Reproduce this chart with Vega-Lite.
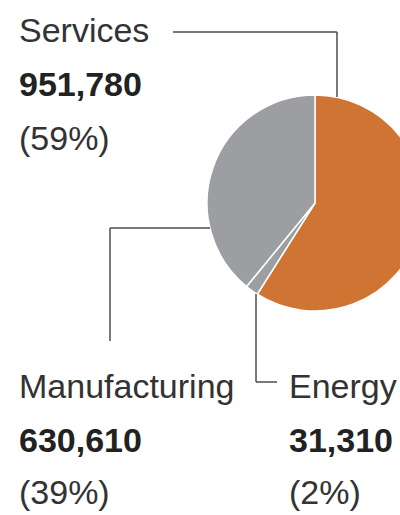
{
  "$schema": "https://vega.github.io/schema/vega-lite/v6.json",
  "width": 400,
  "height": 515,
  "autosize": "none",
  "padding": 0,
  "background": "white",
  "config": {"view": {"stroke": null}},
  "data": {
    "values": [
      {"category": "Services", "value": 951780, "pct": 59, "order": 1},
      {"category": "Energy", "value": 31310, "pct": 2, "order": 2},
      {"category": "Manufacturing", "value": 630610, "pct": 39, "order": 3}
    ]
  },
  "transform": [
    {"calculate": "'(' + datum.pct + '%)'", "as": "pctLabel"},
    {"calculate": "format(datum.value, ',')", "as": "valueLabel"}
  ],
  "layer": [
    {
      "mark": {"type": "arc", "outerRadius": 108, "stroke": "white", "strokeWidth": 1.5},
      "encoding": {
        "x": {"value": 315},
        "y": {"value": 203},
        "theta": {"field": "value", "type": "quantitative", "stack": true},
        "order": {"field": "order", "type": "quantitative"},
        "color": {
          "field": "category",
          "type": "nominal",
          "scale": {"domain": ["Services", "Energy", "Manufacturing"], "range": ["#d07434", "#9c9ea1", "#9c9ea1"]},
          "legend": null
        }
      }
    },
    {"data": {"values": [{}]}, "mark": {"type": "rule", "stroke": "#4d4d4d", "strokeWidth": 1.5}, "encoding": {"x": {"value": 173}, "y": {"value": 32}, "x2": {"value": 337}, "y2": {"value": 32}}},
    {"data": {"values": [{}]}, "mark": {"type": "rule", "stroke": "#4d4d4d", "strokeWidth": 1.5}, "encoding": {"x": {"value": 337}, "y": {"value": 32}, "x2": {"value": 337}, "y2": {"value": 97}}},
    {"data": {"values": [{}]}, "mark": {"type": "rule", "stroke": "#4d4d4d", "strokeWidth": 1.5}, "encoding": {"x": {"value": 110}, "y": {"value": 228}, "x2": {"value": 210}, "y2": {"value": 228}}},
    {"data": {"values": [{}]}, "mark": {"type": "rule", "stroke": "#4d4d4d", "strokeWidth": 1.5}, "encoding": {"x": {"value": 110}, "y": {"value": 228}, "x2": {"value": 110}, "y2": {"value": 341}}},
    {"data": {"values": [{}]}, "mark": {"type": "rule", "stroke": "#4d4d4d", "strokeWidth": 1.5}, "encoding": {"x": {"value": 256}, "y": {"value": 294}, "x2": {"value": 256}, "y2": {"value": 382}}},
    {"data": {"values": [{}]}, "mark": {"type": "rule", "stroke": "#4d4d4d", "strokeWidth": 1.5}, "encoding": {"x": {"value": 256}, "y": {"value": 382}, "x2": {"value": 277}, "y2": {"value": 382}}},
    {
      "transform": [{"filter": "datum.category == 'Services'"}],
      "mark": {"type": "text", "align": "left", "baseline": "alphabetic", "font": "Liberation Sans", "fontSize": 34, "color": "#333333"},
      "encoding": {"x": {"value": 19}, "y": {"value": 42}, "text": {"field": "category", "type": "nominal"}}
    },
    {
      "transform": [{"filter": "datum.category == 'Services'"}],
      "mark": {"type": "text", "align": "left", "baseline": "alphabetic", "font": "Liberation Sans", "fontSize": 34, "fontWeight": "bold", "color": "#222222"},
      "encoding": {"x": {"value": 19}, "y": {"value": 96}, "text": {"field": "valueLabel", "type": "nominal"}}
    },
    {
      "transform": [{"filter": "datum.category == 'Services'"}],
      "mark": {"type": "text", "align": "left", "baseline": "alphabetic", "font": "Liberation Sans", "fontSize": 34, "color": "#333333"},
      "encoding": {"x": {"value": 19}, "y": {"value": 150}, "text": {"field": "pctLabel", "type": "nominal"}}
    },
    {
      "transform": [{"filter": "datum.category == 'Manufacturing'"}],
      "mark": {"type": "text", "align": "left", "baseline": "alphabetic", "font": "Liberation Sans", "fontSize": 34, "color": "#333333"},
      "encoding": {"x": {"value": 19}, "y": {"value": 398}, "text": {"field": "category", "type": "nominal"}}
    },
    {
      "transform": [{"filter": "datum.category == 'Manufacturing'"}],
      "mark": {"type": "text", "align": "left", "baseline": "alphabetic", "font": "Liberation Sans", "fontSize": 34, "fontWeight": "bold", "color": "#222222"},
      "encoding": {"x": {"value": 19}, "y": {"value": 452}, "text": {"field": "valueLabel", "type": "nominal"}}
    },
    {
      "transform": [{"filter": "datum.category == 'Manufacturing'"}],
      "mark": {"type": "text", "align": "left", "baseline": "alphabetic", "font": "Liberation Sans", "fontSize": 34, "color": "#333333"},
      "encoding": {"x": {"value": 19}, "y": {"value": 504}, "text": {"field": "pctLabel", "type": "nominal"}}
    },
    {
      "transform": [{"filter": "datum.category == 'Energy'"}],
      "mark": {"type": "text", "align": "left", "baseline": "alphabetic", "font": "Liberation Sans", "fontSize": 34, "color": "#333333"},
      "encoding": {"x": {"value": 289}, "y": {"value": 398}, "text": {"field": "category", "type": "nominal"}}
    },
    {
      "transform": [{"filter": "datum.category == 'Energy'"}],
      "mark": {"type": "text", "align": "left", "baseline": "alphabetic", "font": "Liberation Sans", "fontSize": 34, "fontWeight": "bold", "color": "#222222"},
      "encoding": {"x": {"value": 289}, "y": {"value": 452}, "text": {"field": "valueLabel", "type": "nominal"}}
    },
    {
      "transform": [{"filter": "datum.category == 'Energy'"}],
      "mark": {"type": "text", "align": "left", "baseline": "alphabetic", "font": "Liberation Sans", "fontSize": 34, "color": "#333333"},
      "encoding": {"x": {"value": 289}, "y": {"value": 504}, "text": {"field": "pctLabel", "type": "nominal"}}
    }
  ]
}
